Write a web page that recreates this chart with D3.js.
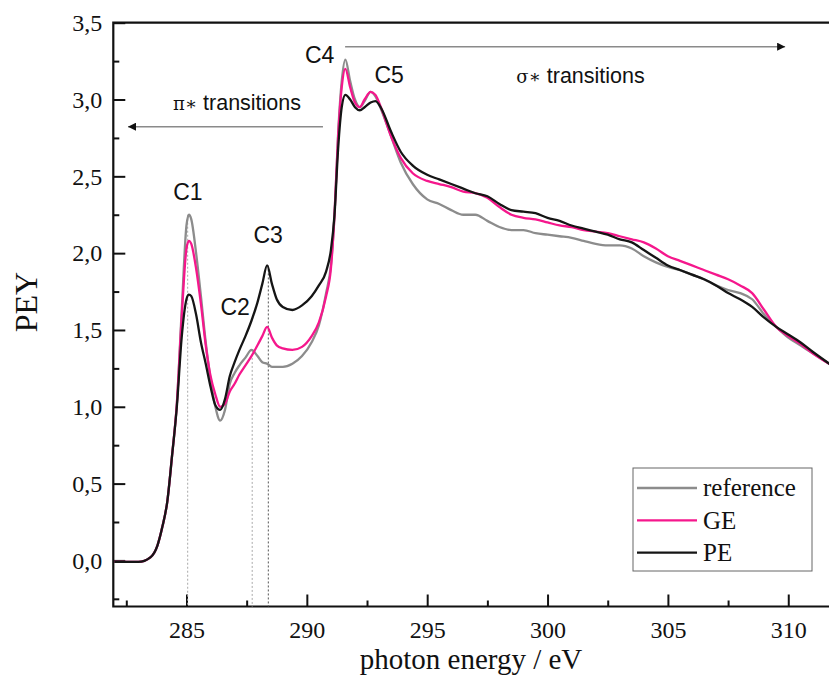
<!DOCTYPE html>
<html>
<head>
<meta charset="utf-8">
<script src="https://cdn.jsdelivr.net/npm/d3@7"></script>
<style>
  body { margin: 0; background: #fff; }
  .tick text { font-family: "Liberation Serif", "Times New Roman", serif; font-size: 24px; fill: #111; }
  .tick line { stroke: #111; stroke-width: 2; }
  .note { font-family: "Liberation Sans", Arial, sans-serif; font-size: 21.5px; fill: #111; }
</style>
</head>
<body>
<div id="chart"></div>
<script>
// PEY spectra, C K-edge: reference vs GE vs PE

// photon energy grid (eV)
var energy = [282.0, 283.0, 283.5, 283.8, 284.0, 284.2, 284.4, 284.6, 284.8, 285.0,
  285.1, 285.2, 285.4, 285.6, 285.8, 286.0, 286.2, 286.4, 286.6, 286.8,
  287.0, 287.2, 287.45, 287.7, 287.95, 288.15, 288.35, 288.55, 288.75, 289.0,
  289.4, 289.8, 290.2, 290.5, 290.8, 291.0, 291.15, 291.3, 291.45, 291.6,
  291.8, 292.0, 292.2, 292.4, 292.65, 292.85, 293.1, 293.5, 293.9, 294.4,
  295.0, 295.5, 296.0, 296.5, 297.0, 297.5, 298.0, 298.5, 299.0, 299.5,
  300.0, 300.5, 301.0, 301.5, 302.0, 302.5, 303.0, 303.5, 304.0, 304.5,
  305.0, 305.5, 306.0, 306.5, 307.0, 307.5, 308.0, 308.5, 309.0, 309.5,
  310.0, 310.5, 311.0, 311.8];

var reference = [-0.01, -0.01, 0.02, 0.10, 0.22, 0.38, 0.68, 1.02, 1.62, 2.18,
  2.25, 2.22, 2.00, 1.72, 1.42, 1.18, 1.00, 0.91, 0.98, 1.15,
  1.22, 1.27, 1.32, 1.37, 1.33, 1.29, 1.28, 1.26, 1.26, 1.26,
  1.28, 1.33, 1.42, 1.53, 1.74, 1.92, 2.25, 2.78, 3.12, 3.26,
  3.12, 3.00, 2.95, 2.99, 3.05, 3.02, 2.93, 2.76, 2.59, 2.45,
  2.35, 2.32, 2.28, 2.25, 2.25, 2.21, 2.17, 2.15, 2.15, 2.13,
  2.12, 2.11, 2.10, 2.08, 2.06, 2.05, 2.05, 2.03, 1.98, 1.94,
  1.91, 1.89, 1.86, 1.83, 1.79, 1.76, 1.74, 1.70, 1.60, 1.52,
  1.45, 1.40, 1.35, 1.27];

var ge = [-0.01, -0.01, 0.02, 0.10, 0.22, 0.38, 0.68, 1.02, 1.58, 2.03,
  2.08, 2.06, 1.90, 1.67, 1.40, 1.20, 1.08, 1.00, 1.02, 1.10,
  1.15, 1.21, 1.27, 1.33, 1.40, 1.46, 1.52, 1.45, 1.40, 1.38,
  1.37, 1.39, 1.46, 1.55, 1.72, 1.90, 2.25, 2.76, 3.08, 3.20,
  3.08, 2.98, 2.95, 3.00, 3.05, 3.03, 2.94, 2.76, 2.62, 2.52,
  2.47, 2.45, 2.43, 2.40, 2.39, 2.36, 2.30, 2.25, 2.23, 2.22,
  2.20, 2.18, 2.17, 2.15, 2.14, 2.13, 2.11, 2.09, 2.07, 2.03,
  1.98, 1.95, 1.92, 1.89, 1.86, 1.83, 1.79, 1.74, 1.63, 1.52,
  1.46, 1.41, 1.35, 1.27];

var pe = [-0.01, -0.01, 0.02, 0.10, 0.22, 0.38, 0.68, 1.00, 1.45, 1.70,
  1.73, 1.72, 1.60, 1.42, 1.28, 1.13, 1.01, 0.98, 1.05, 1.20,
  1.29, 1.37, 1.46, 1.56, 1.68, 1.80, 1.92, 1.80, 1.70, 1.65,
  1.63, 1.66, 1.72, 1.79, 1.88, 2.02, 2.25, 2.68, 2.95, 3.03,
  3.00, 2.95, 2.93, 2.95, 2.98, 2.99, 2.94, 2.79, 2.66, 2.57,
  2.51, 2.48, 2.45, 2.42, 2.39, 2.37, 2.32, 2.28, 2.27, 2.26,
  2.23, 2.21, 2.18, 2.16, 2.14, 2.12, 2.09, 2.07, 2.02, 1.97,
  1.92, 1.89, 1.86, 1.83, 1.79, 1.74, 1.70, 1.65, 1.58, 1.52,
  1.47, 1.42, 1.36, 1.27];

var seriesNames = ["reference", "GE", "PE"];
var seriesColors = ["#8c8c8c", "#f5178c", "#151515"];

// peak markers: position, height
var peakEnergy = [285.05, 287.73, 288.40];
var peakTop = [2.25, 1.37, 1.92];
var peakColor = ["#aaaaaa", "#aaaaaa", "#555555"];

var xMajor = [285, 290, 295, 300, 305, 310];
var xMinor = [282.5, 287.5, 292.5, 297.5, 302.5, 307.5];
var yMajor = [0, 0.5, 1, 1.5, 2, 2.5, 3, 3.5];
var yMinor = [-0.25, 0.25, 0.75, 1.25, 1.75, 2.25, 2.75, 3.25];

var svgWidth = 829;
var svgHeight = 697;

var plot = { left: 113.3, top: 22.7, right: 834, bottom: 606.5 };

var svg = d3.select("#chart")
  .append("svg")
  .attr("width", svgWidth)
  .attr("height", svgHeight);

var x = d3.scaleLinear().domain([281.96, 311.9]).range([plot.left, plot.right]);
var y = d3.scaleLinear().domain([-0.3, 3.5]).range([plot.bottom, plot.top]);

var comma = function(d) { return d3.format(".1f")(d).replace(".", ","); };

// axes (ticks point inward)
svg.append("g")
  .attr("transform", "translate(0," + plot.bottom + ")")
  .call(d3.axisBottom(x).tickValues(xMajor).tickSizeInner(-12).tickSizeOuter(0).tickPadding(14.5).tickFormat(d3.format("d")));
svg.append("g")
  .attr("transform", "translate(0," + plot.bottom + ")")
  .call(d3.axisBottom(x).tickValues(xMinor).tickSizeInner(-6).tickSizeOuter(0).tickFormat(""));

svg.append("g")
  .attr("transform", "translate(" + plot.left + ",0)")
  .call(d3.axisLeft(y).tickValues(yMajor).tickSizeInner(-12).tickSizeOuter(0).tickPadding(11).tickFormat(comma));
svg.append("g")
  .attr("transform", "translate(" + plot.left + ",0)")
  .call(d3.axisLeft(y).tickValues(yMinor).tickSizeInner(-6).tickSizeOuter(0).tickFormat(""));

svg.selectAll(".domain").remove();

// frame
svg.append("path")
  .attr("d", "M" + plot.right + "," + plot.top + "H" + plot.left + "V" + plot.bottom + "H" + plot.right)
  .attr("fill", "none")
  .attr("stroke", "#111")
  .attr("stroke-width", 2.2);

// axis titles
svg.append("text")
  .attr("x", 471)
  .attr("y", 669)
  .attr("text-anchor", "middle")
  .style("font-family", "'Liberation Serif', serif")
  .style("font-size", "29px")
  .style("fill", "#111")
  .text("photon energy / eV");

svg.append("text")
  .attr("transform", "translate(37,302) rotate(-90)")
  .attr("text-anchor", "middle")
  .style("font-family", "'Liberation Serif', serif")
  .style("font-size", "32px")
  .style("fill", "#111")
  .text("PEY");

// dotted peak lines
svg.selectAll(".peakline")
  .data(peakEnergy)
  .enter()
  .append("line")
  .attr("class", "peakline")
  .attr("x1", function(d) { return x(d); })
  .attr("x2", function(d) { return x(d); })
  .attr("y1", function(d, i) { return y(peakTop[i]); })
  .attr("y2", plot.bottom)
  .attr("stroke", function(d, i) { return peakColor[i]; })
  .attr("stroke-width", 1)
  .attr("stroke-dasharray", "2,2");

// spectra
var allSeries = [reference, ge, pe];
var line = d3.line()
  .x(function(d, i) { return x(energy[i]); })
  .y(function(d) { return y(d); })
  .curve(d3.curveMonotoneX);

svg.selectAll(".spectrum")
  .data(allSeries)
  .enter()
  .append("path")
  .attr("class", "spectrum")
  .attr("d", line)
  .attr("fill", "none")
  .attr("stroke", function(d, i) { return seriesColors[i]; })
  .attr("stroke-width", 2.3)
  .attr("stroke-linejoin", "round");

// peak labels
var labelText = ["C1", "C2", "C3", "C4", "C5"];
var labelE = [285.06, 287.02, 288.39, 290.53, 293.42];
var labelV = [2.346, 1.597, 2.066, 3.238, 3.108];

svg.selectAll(".clabel")
  .data(labelText)
  .enter()
  .append("text")
  .attr("class", "note clabel")
  .attr("x", function(d, i) { return x(labelE[i]); })
  .attr("y", function(d, i) { return y(labelV[i]); })
  .attr("text-anchor", "middle")
  .style("font-size", "23px")
  .text(function(d) { return d; });

// arrows
var defs = svg.append("defs");
defs.append("marker")
  .attr("id", "head")
  .attr("viewBox", "0 0 10 10")
  .attr("refX", 10)
  .attr("refY", 5)
  .attr("markerUnits", "userSpaceOnUse")
  .attr("markerWidth", 16)
  .attr("markerHeight", 8)
  .attr("orient", "auto")
  .append("path")
  .attr("d", "M0,0L10,5L0,10z")
  .attr("fill", "#111");

svg.append("line")
  .attr("x1", x(290.67)).attr("x2", x(282.57))
  .attr("y1", y(2.823)).attr("y2", y(2.823))
  .attr("stroke", "#8a8a8a").attr("stroke-width", 1.5)
  .attr("marker-end", "url(#head)");

svg.append("line")
  .attr("x1", x(291.59)).attr("x2", x(309.87))
  .attr("y1", y(3.344)).attr("y2", y(3.344))
  .attr("stroke", "#8a8a8a").attr("stroke-width", 1.5)
  .attr("marker-end", "url(#head)");

var piText = svg.append("text")
  .attr("class", "note")
  .attr("x", x(284.44))
  .attr("y", y(2.932));
piText.append("tspan").style("font-family", "'DejaVu Serif', serif").style("font-size", "18px").text("π∗");
piText.append("tspan").text(" transitions");

var sigText = svg.append("text")
  .attr("class", "note")
  .attr("x", x(298.70))
  .attr("y", y(3.108));
sigText.append("tspan").style("font-family", "'DejaVu Serif', serif").style("font-size", "18px").text("σ∗");
sigText.append("tspan").text(" transitions");

// legend
var legend = svg.append("g").attr("transform", "translate(633,468)");
legend.append("rect")
  .attr("width", 179)
  .attr("height", 103)
  .attr("fill", "#fff")
  .attr("stroke", "#666")
  .attr("stroke-width", 1);

var entry = legend.selectAll(".entry")
  .data(seriesNames)
  .enter()
  .append("g")
  .attr("transform", function(d, i) { return "translate(0," + (20 + i * 32.3) + ")"; });
entry.append("line")
  .attr("x1", 4).attr("x2", 64)
  .attr("stroke", function(d, i) { return seriesColors[i]; })
  .attr("stroke-width", 2.3);
entry.append("text")
  .attr("x", 70)
  .attr("dy", "0.33em")
  .style("font-family", "'Liberation Serif', serif")
  .style("font-size", "25px")
  .style("fill", "#111")
  .text(function(d) { return d; });
</script>
</body>
</html>
